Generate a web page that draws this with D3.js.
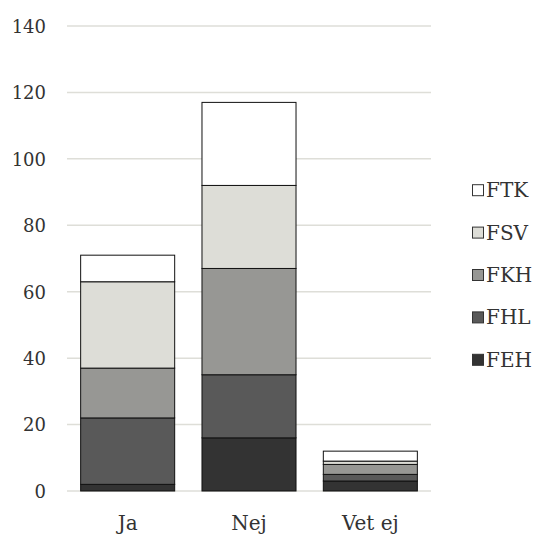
<!DOCTYPE html>
<html>
<head>
<meta charset="utf-8">
<script src="https://cdn.jsdelivr.net/npm/d3@7"></script>
<style>
  html, body { margin: 0; padding: 0; background: #fff; }
  svg { display: block; }
</style>
</head>
<body>
<script>
const categories = ["Ja", "Nej", "Vet ej"];
const seriesNames = ["FEH", "FHL", "FKH", "FSV", "FTK"];
const FEH = [2, 16, 3];
const FHL = [20, 19, 2];
const FKH = [15, 32, 3];
const FSV = [26, 25, 1];
const FTK = [8, 25, 3];
const yTicks = [0, 20, 40, 60, 80, 100, 120, 140];
const colors = ["#333333", "#595959", "#979794", "#DDDDD7", "#FFFFFF"];

const W = 538, H = 534;
const FONT = "DejaVu Serif";
const svg = d3.select("body").append("svg").attr("width", W).attr("height", H);

const table = categories.map((c, i) => ({
  cat: c, FEH: FEH[i], FHL: FHL[i], FKH: FKH[i], FSV: FSV[i], FTK: FTK[i]
}));
const stacked = d3.stack().keys(seriesNames)(table);

const x = d3.scaleBand().domain(categories).range([67, 431]).paddingInner(0.225).paddingOuter(0.1125);
const y = d3.scaleLinear().domain([0, 140]).range([491, 26]);

svg.append("g").selectAll("line").data(yTicks).join("line")
  .attr("x1", 67).attr("x2", 431)
  .attr("y1", d => y(d)).attr("y2", d => y(d))
  .attr("stroke", "#DEDED8").attr("stroke-width", 1.5);

const yAxis = d3.axisLeft(y).tickValues(yTicks).tickSize(0).tickPadding(0);
const gy = svg.append("g").attr("transform", "translate(46,0)").call(yAxis);
gy.select(".domain").remove();
gy.attr("font-family", FONT).attr("font-size", 18);
gy.selectAll("text").attr("fill", "#333").attr("dy", "0.35em");

svg.append("g").selectAll("g").data(stacked).join("g")
  .attr("fill", (d, i) => colors[i])
  .selectAll("rect").data(d => d).join("rect")
  .attr("x", d => x(d.data.cat))
  .attr("width", x.bandwidth())
  .attr("y", d => y(d[1]))
  .attr("height", d => y(d[0]) - y(d[1]))
  .attr("stroke", "#111").attr("stroke-width", 1);

const xAxis = d3.axisBottom(x).tickSize(0).tickPadding(0);
const gx = svg.append("g").attr("transform", "translate(0,516)").call(xAxis);
gx.select(".domain").remove();
gx.attr("font-family", FONT).attr("font-size", 20);
gx.selectAll("text").attr("fill", "#333").attr("dy", "0.71em");

const legendItems = seriesNames.map((n, i) => ({ name: n, color: colors[i] })).reverse();
const lg = svg.append("g").attr("font-family", FONT).attr("font-size", 20);
const ly = d3.scaleBand().domain(legendItems.map(d => d.name)).range([169, 381]);
legendItems.forEach(d => {
  const cy = ly(d.name) + ly.bandwidth() / 2;
  lg.append("rect").attr("x", 472.5).attr("y", cy - 5.5).attr("width", 11).attr("height", 11)
    .attr("fill", d.color).attr("stroke", "#333").attr("stroke-width", 1);
  lg.append("text").attr("x", 486).attr("y", cy).attr("dy", "0.35em").attr("fill", "#333")
    .text(d.name);
});
</script>
</body>
</html>
